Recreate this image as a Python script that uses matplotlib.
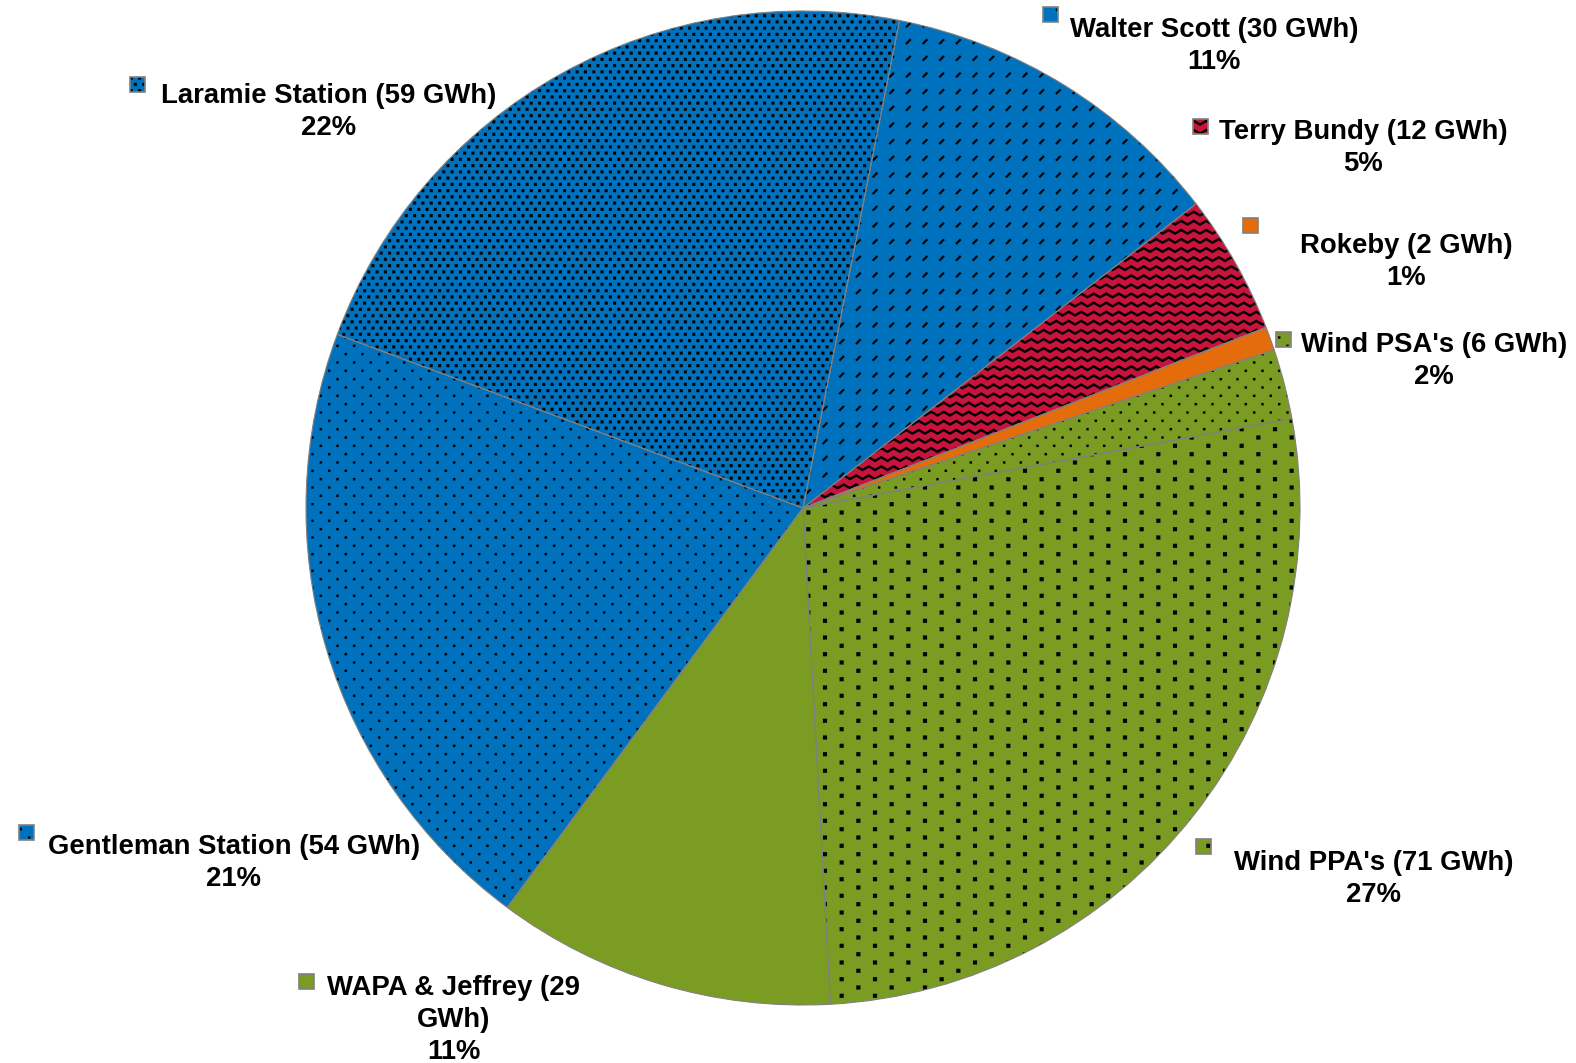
import numpy as np
import matplotlib
matplotlib.use("Agg")
import matplotlib.pyplot as plt
import matplotlib.hatch as mhatch
from matplotlib.path import Path
from matplotlib.patches import Rectangle

# --- data ---
names = ["Walter Scott", "Terry Bundy", "Rokeby", "Wind PSA's", "Wind PPA's",
         "WAPA & Jeffrey", "Gentleman Station", "Laramie Station"]
gwh = [30, 12, 2, 6, 71, 29, 54, 59]

BLUE, RED, ORANGE, GREEN = "#0071BC", "#C8143C", "#E46C0A", "#7A9C23"
colors = [BLUE, RED, ORANGE, GREEN, GREEN, GREEN, BLUE, BLUE]
hatches = ["/", "-", "", ".", "o", "", ".", "O"]

W, H = 1576, 1063  # canvas in pixels (1 data unit = 1 px)


# --- excel-like fill patterns (one hatch tile = 100 px at dpi 100) ---
def squares(ncol, nrow, side):
    s = side / 200
    polys = []
    for r in range(nrow):
        y = (r + 0.5) / nrow
        shift = 0.5 / ncol if r % 2 else 0.0
        for c in range(ncol):
            x = (c + 0.25) / ncol + shift
            polys.append([(x - s, y - s), (x + s, y - s), (x + s, y + s), (x - s, y + s)])
    return polys


def dashes(n, length, width):
    h = length / 200 / np.sqrt(2)
    w = width / 200 / np.sqrt(2)
    polys = []
    for r in range(n):
        for c in range(n):
            x, y = (c + 0.5) / n, (r + 0.5) / n
            polys.append([(x - h + w, y - h - w), (x + h + w, y + h - w),
                          (x + h - w, y + h + w), (x - h - w, y - h + w)])
    return polys


def zigzag(nrow, nper, amp, width):
    xs = np.linspace(0, 1, 2 * nper + 1)
    sign = np.where(np.arange(len(xs)) % 2 == 0, -1, 1)
    polys = []
    for r in range(nrow):
        ys = (r + 0.5) / nrow + amp / 100 * sign
        top = list(zip(xs, ys + width / 200))
        bot = list(zip(xs[::-1], (ys - width / 200)[::-1]))
        polys.append(top + bot)
    return polys


HATCH_SHAPES = {
    ".": squares(6, 12, 2.3),    # small sparse dots
    "O": squares(12, 16, 2.9),   # dense dots
    "o": squares(3, 12, 4.0),    # large sparse dots
    "/": dashes(6, 6.5, 2.0),    # small diagonal dashes
    "-": zigzag(11, 8, 1.8, 2.6),  # zigzag
}


class TileHatch(mhatch.HatchPatternBase):
    def __init__(self, hatch, density):
        self.polys = [p for ch, ps in HATCH_SHAPES.items() if ch in hatch for p in ps]
        self.num_vertices = sum(len(p) + 1 for p in self.polys)

    def set_vertices_and_codes(self, vertices, codes):
        i = 0
        for p in self.polys:
            n = len(p)
            vertices[i:i + n] = p
            vertices[i + n] = p[0]
            codes[i] = Path.MOVETO
            codes[i + 1:i + n] = Path.LINETO
            codes[i + n] = Path.CLOSEPOLY
            i += n + 1


mhatch._hatch_types[:] = [TileHatch]
plt.rcParams["hatch.linewidth"] = 0.1

# --- layout (pixels from top-left) ---
center_px = (803, 508)
radius = 497
start = 78.8
# label: (text centre x, first baseline y, key left x, key top y)
label_pos = {
    "Walter Scott": (1214, 37, 1043, 7),
    "Terry Bundy": (1363, 139, 1193, 119),
    "Rokeby": (1406, 253, 1243, 218),
    "Wind PSA's": (1434, 352, 1276, 332),
    "Wind PPA's": (1374, 870, 1196, 839),
    "WAPA & Jeffrey": (454, 995, 299, 974),
    "Gentleman Station": (234, 854, 19, 825),
    "Laramie Station": (329, 103, 130, 77),
}

fig = plt.figure(figsize=(W / 100, H / 100), dpi=100)
ax = fig.add_axes([0, 0, 1, 1])

cx, cy = center_px[0], H - center_px[1]
# filled + patterned wedges
ax.pie(gwh, colors=colors, hatch=hatches, startangle=start, counterclock=False,
       center=(cx, cy), radius=radius,
       wedgeprops=dict(edgecolor="black", linewidth=0))
# thin grey outlines on top
ax.pie(gwh, startangle=start, counterclock=False, center=(cx, cy), radius=radius,
       wedgeprops=dict(facecolor="none", edgecolor="#808080", linewidth=0.8))

ax.set_xlim(0, W)
ax.set_ylim(0, H)
ax.set_aspect("equal")
ax.axis("off")

total = sum(gwh)
font = dict(family="Liberation Sans", weight="bold", size=19.8, color="black")
for name, val, col, hat in zip(names, gwh, colors, hatches):
    tx, ty, kx, ky = label_pos[name]
    if name == "WAPA & Jeffrey":
        lines = [f"{name} ({val}", "GWh)"]
    else:
        lines = [f"{name} ({val} GWh)"]
    lines.append(f"{val / total:.0%}")
    for k, line in enumerate(lines):
        ax.text(tx, H - (ty + 32 * k), line, ha="center", va="baseline", **font)
    # legend key
    ax.add_patch(Rectangle((kx, H - ky - 15), 15, 15, facecolor=col, hatch=hat,
                           edgecolor="black", linewidth=0))
    ax.add_patch(Rectangle((kx, H - ky - 15), 15, 15, facecolor="none",
                           edgecolor="#808080", linewidth=1.2))

fig.savefig("out.png", dpi=100)
